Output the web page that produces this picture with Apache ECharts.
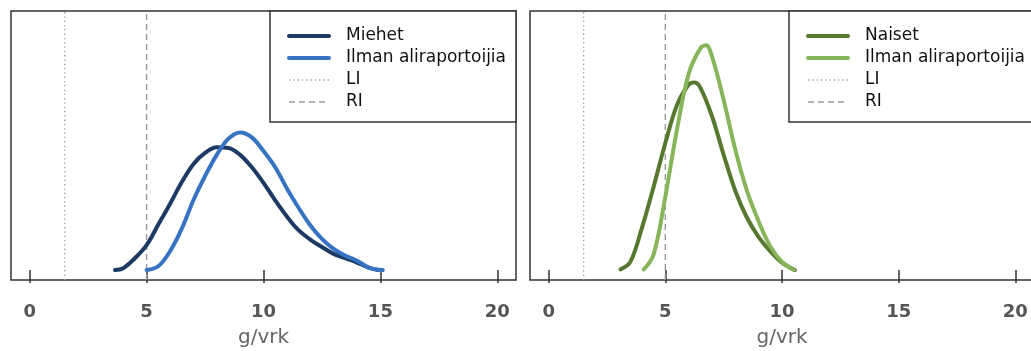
<!DOCTYPE html>
<html>
<head>
<meta charset="utf-8">
<script src="https://cdn.jsdelivr.net/npm/echarts@6/dist/echarts.min.js"></script>
<style>
html,body{margin:0;padding:0;background:#fff;}
#chart{width:1031px;height:351px;}
</style>
</head>
<body>
<div id="chart"></div>
<script>
// ---- data (density estimates, x in g/vrk) ----
var xTicks = [0, 5, 10, 15, 20];
var xRange = [-0.8, 20.8];
var yRange = [-0.016, 0.416];
var refLI = 1.5;
var refRI = 5;

var miehet = [[3.65,0],[4.0,0.003],[4.5,0.019],[5.0,0.040],[5.5,0.073],[6.0,0.106],[6.5,0.141],[7.0,0.170],[7.5,0.188],[8.0,0.197],[8.5,0.196],[9.0,0.185],[9.5,0.165],[10.0,0.140],[10.5,0.112],[11.0,0.086],[11.5,0.064],[12.0,0.049],[12.5,0.037],[13.0,0.026],[13.5,0.019],[14.0,0.012],[14.5,0.004],[14.9,0]];
var miehetIlman = [[5.0,0],[5.5,0.006],[6.0,0.030],[6.5,0.066],[7.0,0.112],[7.5,0.151],[8.0,0.185],[8.5,0.211],[9.0,0.221],[9.5,0.213],[10.0,0.191],[10.5,0.165],[11.0,0.131],[11.5,0.100],[12.0,0.072],[12.5,0.050],[13.0,0.034],[13.5,0.023],[14.0,0.015],[14.5,0.004],[15.1,0]];
var naiset = [[3.08,0.001],[3.5,0.013],[4.0,0.068],[4.5,0.134],[5.0,0.204],[5.5,0.265],[6.0,0.298],[6.25,0.301],[6.5,0.293],[7.0,0.247],[7.5,0.185],[8.0,0.127],[8.5,0.084],[9.0,0.053],[9.5,0.030],[10.0,0.012],[10.55,0]];
var naisetIlman = [[4.08,0.001],[4.5,0.025],[5.0,0.118],[5.5,0.226],[6.0,0.315],[6.5,0.356],[6.75,0.361],[7.0,0.343],[7.5,0.273],[8.0,0.193],[8.5,0.127],[9.0,0.078],[9.5,0.038],[10.0,0.013],[10.5,0]];

var nameMen = 'Miehet';
var nameWomen = 'Naiset';
var nameNoUnder = 'Ilman aliraportoijia';
var nameLI = 'LI';
var nameRI = 'RI';
var xName = 'g/vrk';

// ---- styles ----
var FONT = 'DejaVu Sans';
var cNavy = '#1c3a64', cBlue = '#3673c2', cDkGreen = '#56782f', cLtGreen = '#88b55a';
var cRef = '#9a9a9a';

function refLine(name, x, gi, type) {
  return {
    name: name, type: 'line', xAxisIndex: gi, yAxisIndex: gi,
    data: [[x, yRange[0]], [x, yRange[1]]],
    symbol: 'none', silent: true, z: 1,
    lineStyle: { color: cRef, width: type === 'dotted' ? 1.3 : 1.4, type: type === 'dotted' ? [1.3, 3] : [6, 4] }
  };
}
function curve(name, data, gi, color) {
  return {
    name: name, type: 'line', xAxisIndex: gi, yAxisIndex: gi,
    data: data, symbol: 'none', smooth: 0.35, z: 3,
    lineStyle: { color: color, width: 4, cap: 'round', join: 'round' },
    itemStyle: { color: color }
  };
}
function xAxis(gi) {
  return {
    type: 'value', gridIndex: gi, min: xRange[0], max: xRange[1],
    axisLine: { show: false },
    axisTick: { show: true, length: 13, customValues: xTicks, lineStyle: { color: '#333', width: 1.5 } },
    axisLabel: { customValues: xTicks, margin: 23, fontSize: 18, fontWeight: 'bold', color: '#555', fontFamily: FONT },
    splitLine: { show: false },
    name: xName, nameLocation: 'middle', nameGap: 48,
    nameTextStyle: { fontSize: 20, color: '#666', fontFamily: FONT }
  };
}
function yAxis(gi) {
  return { type: 'value', gridIndex: gi, min: yRange[0], max: yRange[1], show: false, splitLine: { show: false } };
}
function legend(left, padRight, mainName, mainColor, lightColor) {
  return {
    orient: 'vertical', left: left, top: 11,
    padding: [14, padRight, 9, 17], itemGap: 0, itemWidth: 40, itemHeight: 14,
    borderColor: '#333', borderWidth: 1.5, borderRadius: 0, backgroundColor: '#fff',
    selectedMode: false,
    textStyle: { fontFamily: FONT, fontSize: 17, color: '#111', lineHeight: 22, padding: [0, 0, 0, 12] },
    data: [
      { name: mainName, lineStyle: { color: mainColor, width: 4 }, itemStyle: { opacity: 0 } },
      { name: nameNoUnder, lineStyle: { color: lightColor, width: 4 }, itemStyle: { opacity: 0 } },
      { name: nameLI, lineStyle: { color: cRef, width: 1.3, type: [1.3, 3] }, itemStyle: { opacity: 0 } },
      { name: nameRI, lineStyle: { color: cRef, width: 1.4, type: [6, 4] }, itemStyle: { opacity: 0 } }
    ]
  };
}

var chart = echarts.init(document.getElementById('chart'), null, { renderer: 'canvas' });
chart.setOption({
  animation: false,
  backgroundColor: '#fff',
  textStyle: { fontFamily: FONT },
  grid: [
    { left: 11, top: 11, width: 505, height: 269, show: true, outerBoundsMode: 'none', containLabel: false, borderColor: '#333', borderWidth: 1.5, backgroundColor: 'transparent' },
    { left: 530, top: 11, width: 504, height: 269, show: true, outerBoundsMode: 'none', containLabel: false, borderColor: '#333', borderWidth: 1.5, backgroundColor: 'transparent' }
  ],
  xAxis: [xAxis(0), xAxis(1)],
  yAxis: [yAxis(0), yAxis(1)],
  legend: [
    legend(270, 10, nameMen, cNavy, cBlue),
    legend(789, 24, nameWomen, cDkGreen, cLtGreen)
  ],
  series: [
    refLine(nameLI, refLI, 0, 'dotted'),
    refLine(nameRI, refRI, 0, 'dashed'),
    curve(nameMen, miehet, 0, cNavy),
    curve(nameNoUnder, miehetIlman, 0, cBlue),
    refLine(nameLI, refLI, 1, 'dotted'),
    refLine(nameRI, refRI, 1, 'dashed'),
    curve(nameWomen, naiset, 1, cDkGreen),
    curve(nameNoUnder, naisetIlman, 1, cLtGreen)
  ]
});
</script>
</body>
</html>
